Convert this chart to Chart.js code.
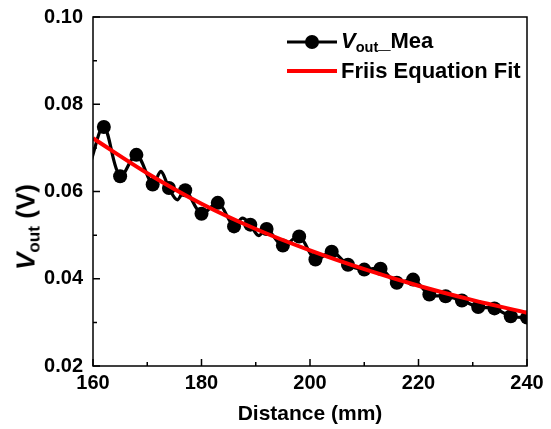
<!DOCTYPE html>
<html>
<head>
<meta charset="utf-8">
<script src="https://cdn.jsdelivr.net/npm/chart.js@4"></script>
<style>
html,body{margin:0;padding:0;background:#fff;}
#wrap{position:relative;width:551px;height:429px;font-family:"Liberation Sans",Arial,sans-serif;font-weight:bold;color:#000;}
#c{position:absolute;left:0;top:0;}
.leg{position:absolute;left:287px;height:24px;display:flex;align-items:center;font-size:22px;white-space:nowrap;line-height:24px;}
.sample{position:relative;width:50px;height:24px;margin-right:4px;}
.sample .ln{position:absolute;left:0;right:0;top:50%;transform:translateY(-50%);}
.sample .dot{position:absolute;left:50%;top:50%;width:14px;height:14px;border-radius:50%;background:#000;transform:translate(-50%,-50%);}
.sub{font-size:0.66em;position:relative;top:0.3em;}
.ytitle{position:absolute;left:26px;top:227px;transform:translate(-50%,-50%) rotate(-90deg);font-size:26px;white-space:nowrap;}
</style>
</head>
<body>
<div id="wrap">
  <canvas id="c" width="551" height="429"></canvas>
  <div class="leg" style="top:30px"><div class="sample"><div class="ln" style="height:3px;background:#000"></div><div class="dot"></div></div><span><i>V</i><span class="sub">out</span>_Mea</span></div>
  <div class="leg" style="top:59px"><div class="sample"><div class="ln" style="height:4px;background:#ff0000"></div></div><span>Friis Equation Fit</span></div>
  <div class="ytitle"><i>V</i><span class="sub">out</span>&nbsp;(V)</div>
</div>
<script>
// Measured points (with markers)
const markDistance = [162,165,168,171,174,177,180,183,186,189,192,195,198,201,204,207,210,213,216,219,222,225,228,231,234,237,240];
const markVout     = [0.0748,0.0635,0.0684,0.0616,0.0608,0.0603,0.0549,0.0574,0.0520,0.0524,0.0514,0.0476,0.0497,0.0444,0.0462,0.0432,0.0421,0.0423,0.0391,0.0398,0.0364,0.0360,0.0350,0.0335,0.0332,0.0314,0.0311];
// Measured points drawn without markers (visible in the line only)
const lineOnlyDistance = [159.5,172.5,175.5,187.5,190.5];
const lineOnlyVout     = [0.0665,0.0646,0.0581,0.0539,0.0499];
// Fit curve
const fitDistance = [160,170,180,190,200,210,220,230,240];
const fitVout     = [0.0722,0.0642,0.0572,0.0514,0.0465,0.0422,0.0384,0.0351,0.0322];
// Tick labels
const xTicks = [160,180,200,220,240];
const yTicks = [0.02,0.04,0.06,0.08,0.10];

const measData = markDistance.map((d,i)=>({x:d,y:markVout[i],m:true}))
  .concat(lineOnlyDistance.map((d,i)=>({x:d,y:lineOnlyVout[i],m:false})))
  .sort((a,b)=>a.x-b.x);
const fitData = fitDistance.map((d,i)=>({x:d,y:fitVout[i]}));

const frameTicks = {
  id:'frameTicks',
  afterDraw(chart){
    const {ctx, chartArea:a, scales:{x,y}} = chart;
    ctx.save();
    ctx.strokeStyle='#000';
    ctx.lineWidth=1.5;
    ctx.strokeRect(a.left,a.top,a.right-a.left,a.bottom-a.top);
    ctx.beginPath();
    for(let i=0;i<xTicks.length;i++){
      const px=x.getPixelForValue(xTicks[i]);
      ctx.moveTo(px,a.bottom); ctx.lineTo(px,a.bottom-7);
      if(i<xTicks.length-1){
        const pm=x.getPixelForValue((xTicks[i]+xTicks[i+1])/2);
        ctx.moveTo(pm,a.bottom); ctx.lineTo(pm,a.bottom-4);
      }
    }
    for(let i=0;i<yTicks.length;i++){
      const py=y.getPixelForValue(yTicks[i]);
      ctx.moveTo(a.left,py); ctx.lineTo(a.left+7,py);
      if(i<yTicks.length-1){
        const pm=y.getPixelForValue((yTicks[i]+yTicks[i+1])/2);
        ctx.moveTo(a.left,pm); ctx.lineTo(a.left+4,pm);
      }
    }
    ctx.stroke();
    ctx.restore();
  }
};

new Chart(document.getElementById('c'),{
  type:'line',
  data:{datasets:[
    {label:'Friis Equation Fit',data:fitData,borderColor:'#ff0000',borderWidth:4,pointRadius:0,cubicInterpolationMode:'monotone',fill:false,order:0},
    {label:'Vout_Mea',data:measData,borderColor:'#000',borderWidth:3.2,tension:0.35,
     pointRadius:c=>(c.raw && c.raw.m)?7:0,pointBackgroundColor:'#000',pointBorderWidth:0,fill:false,order:1}
  ]},
  options:{
    responsive:false,
    devicePixelRatio:1,
    animation:false,
    layout:{padding:{top:17,right:24,left:0,bottom:0}},
    plugins:{legend:{display:false},tooltip:{enabled:false}},
    scales:{
      x:{type:'linear',min:160,max:240,
        grid:{display:false,drawTicks:false},
        border:{display:false},
        afterBuildTicks:s=>{s.ticks=xTicks.map(v=>({value:v}));},
        afterFit:s=>{s.height=63;s.paddingLeft=0;s.paddingRight=0;},
        ticks:{color:'#000',font:{family:'"Liberation Sans", Arial, sans-serif',size:20,weight:'bold'},padding:5,maxRotation:0,callback:v=>String(v)},
        title:{display:true,text:'Distance (mm)',color:'#000',font:{family:'"Liberation Sans", Arial, sans-serif',size:21,weight:'bold'},padding:{top:0,bottom:2}}
      },
      y:{type:'linear',min:0.02,max:0.10,
        grid:{display:false,drawTicks:false},
        border:{display:false},
        afterBuildTicks:s=>{s.ticks=yTicks.map(v=>({value:v}));},
        afterFit:s=>{s.width=93;s.paddingTop=0;s.paddingBottom=0;},
        ticks:{color:'#000',font:{family:'"Liberation Sans", Arial, sans-serif',size:20,weight:'bold'},padding:10,callback:v=>Number(v).toFixed(2)}
      }
    }
  },
  plugins:[frameTicks]
});
</script>
</body>
</html>
